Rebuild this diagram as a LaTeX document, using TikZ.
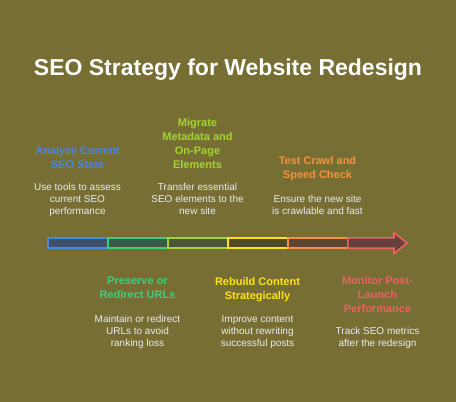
\documentclass[tikz,border=0pt]{standalone}
\usepackage{fontspec}
\setmainfont{Liberation Sans}
\usetikzlibrary{positioning}

\definecolor{bgolive}{HTML}{766E32}
\definecolor{desctext}{HTML}{EDEDED}
\definecolor{cblue}{HTML}{4A86E8}
\definecolor{cgreen}{HTML}{3DCF80}
\definecolor{clime}{HTML}{A3D435}
\definecolor{cyellow}{HTML}{FFE31A}
\definecolor{corange}{HTML}{F5923E}
\definecolor{cred}{HTML}{F0605E}
\definecolor{fblue}{HTML}{3F4E69}
\definecolor{fgreen}{HTML}{3C5846}
\definecolor{flime}{HTML}{4B5338}
\definecolor{fyellow}{HTML}{4E4A2E}
\definecolor{forange}{HTML}{5C4535}
\definecolor{fred}{HTML}{683E3E}

\tikzset{
	steptitle/.style={font=\bfseries\fontsize{11}{14}\selectfont, align=center, inner sep=0pt},
	stepdesc/.style={font=\fontsize{10}{12}\selectfont, text=desctext, align=center, inner sep=0pt},
	segment/.style={line width=1.6pt, line join=miter}
}

\begin{document}
\begin{tikzpicture}[x=1pt, y=-1pt]
		%%%%% START %%%%%
		
		\fill[bgolive] (0, 0) rectangle (456, 402);
		
		\node[font=\bfseries\fontsize{23}{26}\selectfont, text=white, anchor=base] (title) at (228, 75) {SEO Strategy for Website Redesign};
		
		% the bar
		\draw[segment, draw=cblue, fill=fblue] (47.8, 237.8) rectangle (107.8, 248.2);
		\draw[segment, draw=cgreen, fill=fgreen] (107.8, 237.8) rectangle (167.8, 248.2);
		\draw[segment, draw=clime, fill=flime] (167.8, 237.8) rectangle (227.8, 248.2);
		\draw[segment, draw=cyellow, fill=fyellow] (227.8, 237.8) rectangle (287.8, 248.2);
		\draw[segment, draw=corange, fill=forange] (287.8, 237.8) rectangle (347.8, 248.2);
		\draw[segment, draw=cred, fill=fred] (347.8, 237.8) -- (394, 237.8) -- (394, 232.5) -- (407, 243) -- (394, 253.5) -- (394, 248.2) -- (347.8, 248.2) -- cycle;
		
		% steps above the bar
		\node[stepdesc, anchor=north] (analyzedesc) at (77.5, 183) {Use tools to assess\\current SEO\\performance};
		\node[steptitle, text=cblue, above=14pt of analyzedesc] (analyze) {Analyze Current\\SEO State};
		
		\node[stepdesc, anchor=north] (migratedesc) at (197.5, 183) {Transfer essential\\SEO elements to the\\new site};
		\node[steptitle, text=clime, above=14pt of migratedesc] (migrate) {Migrate\\Metadata and\\On-Page\\Elements};
		
		\node[stepdesc, anchor=north] (testdesc) at (317.5, 195) {Ensure the new site\\is crawlable and fast};
		\node[steptitle, text=corange, above=14pt of testdesc] (test) {Test Crawl and\\Speed Check};
		
		% steps below the bar
		\node[steptitle, text=cgreen, anchor=north] (preserve) at (137.5, 277) {Preserve or\\Redirect URLs};
		\node[stepdesc, below=16pt of preserve] (preservedesc) {Maintain or redirect\\URLs to avoid\\ranking loss};
		
		\node[steptitle, text=cyellow, anchor=north] (rebuild) at (257.5, 277) {Rebuild Content\\Strategically};
		\node[stepdesc, below=14pt of rebuild] (rebuilddesc) {Improve content\\without rewriting\\successful posts};
		
		\node[steptitle, text=cred, anchor=north] (monitor) at (377.5, 276) {Monitor Post-\\Launch\\Performance};
		\node[stepdesc, below=15pt of monitor] (monitordesc) {Track SEO metrics\\after the redesign};
		
		%%%%% END %%%%%
\end{tikzpicture}
\end{document}
